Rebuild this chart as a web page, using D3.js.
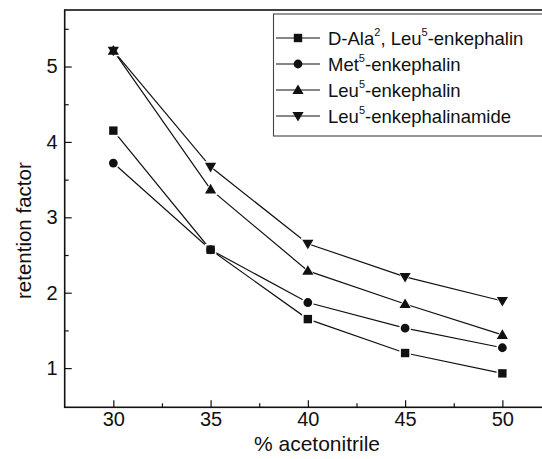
<!DOCTYPE html>
<html>
<head>
<meta charset="utf-8">
<script src="https://cdn.jsdelivr.net/npm/d3@7"></script>
<style>
  html, body { margin: 0; padding: 0; background: #fff; }
  svg { display: block; }
  text { font-family: "Liberation Sans", Arial, Helvetica, sans-serif; fill: #111; }
</style>
</head>
<body>
<svg id="chart" width="542" height="459"></svg>
<script>
// ---- data ----
const acetonitrile = [30, 35, 40, 45, 50];
const dAlaLeu = [4.15, 2.57, 1.65, 1.20, 0.93];
const metEnk = [3.72, 2.57, 1.87, 1.53, 1.27];
const leuEnk = [5.21, 3.37, 2.29, 1.85, 1.44];
const leuEnkAmide = [5.21, 3.67, 2.65, 2.21, 1.89];
const xTicks = [30, 35, 40, 45, 50];
const xMinorTicks = [32.5, 37.5, 42.5, 47.5];
const yTicks = [1, 2, 3, 4, 5];
const yMinorTicks = [1.5, 2.5, 3.5, 4.5, 5.5];
const seriesNames = [
  [{t: "D-Ala"}, {t: "2", sup: true}, {t: ", Leu"}, {t: "5", sup: true}, {t: "-enkephalin"}],
  [{t: "Met"}, {t: "5", sup: true}, {t: "-enkephalin"}],
  [{t: "Leu"}, {t: "5", sup: true}, {t: "-enkephalin"}],
  [{t: "Leu"}, {t: "5", sup: true}, {t: "-enkephalinamide"}]
];
const seriesValues = [dAlaLeu, metEnk, leuEnk, leuEnkAmide];
const markerTypes = ["square", "circle", "up", "down"];

// ---- layout ----
const svg = d3.select("#chart");
const L = 64.7, T = 10, B = 407.3, R = 551;
const ink = "#111";

const x = d3.scaleLinear().domain([27.5, 52.5]).range([L, R]);
const y = d3.scaleLinear().domain([0.48, 5.75]).range([B, T]);

function markerPath(type, cx, cy, grow) {
  const g = grow || 0;
  if (type === "square") {
    const h = 4.2 + g;
    return `M${cx - h},${cy - h}H${cx + h}V${cy + h}H${cx - h}Z`;
  }
  if (type === "circle") {
    const r = 4.4 + g;
    return `M${cx - r},${cy}A${r},${r} 0 1,0 ${cx + r},${cy}A${r},${r} 0 1,0 ${cx - r},${cy}Z`;
  }
  const w = 5.6 + g, top = 5.6 + g, bot = 4.0 + g;
  if (type === "up") {
    return `M${cx},${cy - top}L${cx + w},${cy + bot}L${cx - w},${cy + bot}Z`;
  }
  return `M${cx},${cy + top}L${cx + w},${cy - bot}L${cx - w},${cy - bot}Z`;
}

// ---- series lines ----
const line = d3.line().x((d, i) => x(acetonitrile[i])).y(d => y(d));
const plot = svg.append("g");
seriesValues.forEach(vals => {
  plot.append("path").attr("d", line(vals))
    .attr("fill", "none").attr("stroke", ink).attr("stroke-width", 1.2);
});
// white halos (gap between lines and markers)
seriesValues.forEach((vals, s) => {
  vals.forEach((v, i) => {
    plot.append("path").attr("d", markerPath(markerTypes[s], x(acetonitrile[i]), y(v), 1.6))
      .attr("fill", "#fff");
  });
});
// markers
seriesValues.forEach((vals, s) => {
  vals.forEach((v, i) => {
    plot.append("path").attr("d", markerPath(markerTypes[s], x(acetonitrile[i]), y(v)))
      .attr("fill", ink);
  });
});

// ---- axes ----
const xAxis = svg.append("g").attr("transform", `translate(0,${B})`)
  .call(d3.axisBottom(x).tickValues(xTicks).tickSize(-7).tickPadding(5).tickFormat(d3.format("d")));
const xMinor = svg.append("g").attr("transform", `translate(0,${B})`)
  .call(d3.axisBottom(x).tickValues(xMinorTicks).tickSize(-4).tickFormat(""));
const yAxis = svg.append("g").attr("transform", `translate(${L},0)`)
  .call(d3.axisLeft(y).tickValues(yTicks).tickSize(-7).tickPadding(7).tickFormat(d3.format("d")));
const yMinor = svg.append("g").attr("transform", `translate(${L},0)`)
  .call(d3.axisLeft(y).tickValues(yMinorTicks).tickSize(-4).tickFormat(""));
[xAxis, xMinor, yAxis, yMinor].forEach(g => {
  g.select(".domain").remove();
  g.selectAll(".tick line").attr("stroke", ink).attr("stroke-width", 1.2);
  g.selectAll(".tick text").attr("font-size", 20).attr("fill", ink)
    .style("font-family", '"Liberation Sans", Arial, sans-serif');
});

// frame
svg.append("rect").attr("x", L).attr("y", T).attr("width", R - L).attr("height", B - T)
  .attr("fill", "none").attr("stroke", ink).attr("stroke-width", 1.6);

// axis titles
svg.append("text").attr("x", 317).attr("y", 451)
  .attr("text-anchor", "middle").attr("font-size", 21).text("% acetonitrile");
svg.append("text").attr("transform", `translate(31,${(T + B) / 2 + 22}) rotate(-90)`)
  .attr("text-anchor", "middle").attr("font-size", 20.5).text("retention factor");

// ---- legend ----
const lg = svg.append("g");
lg.append("rect").attr("x", 273.5).attr("y", 14).attr("width", 280).attr("height", 122)
  .attr("fill", "#fff").attr("stroke", "#444").attr("stroke-width", 1.1);
const rowY = [38, 64, 90, 116];
seriesNames.forEach((parts, s) => {
  const ry = rowY[s];
  lg.append("line").attr("x1", 276).attr("x2", 320).attr("y1", ry).attr("y2", ry)
    .attr("stroke", ink).attr("stroke-width", 1.1);
  lg.append("path").attr("d", markerPath(markerTypes[s], 298, ry)).attr("fill", ink);
  const t = lg.append("text").attr("x", 328).attr("y", ry + 7).attr("font-size", 18.5);
  let dySum = 0;
  parts.forEach(p => {
    const ts = t.append("tspan").text(p.t);
    if (p.sup) {
      ts.attr("font-size", 11).attr("dy", -9 - dySum);
      dySum = -9;
    } else {
      ts.attr("dy", -dySum);
      dySum = 0;
    }
  });
});
</script>
</body>
</html>
